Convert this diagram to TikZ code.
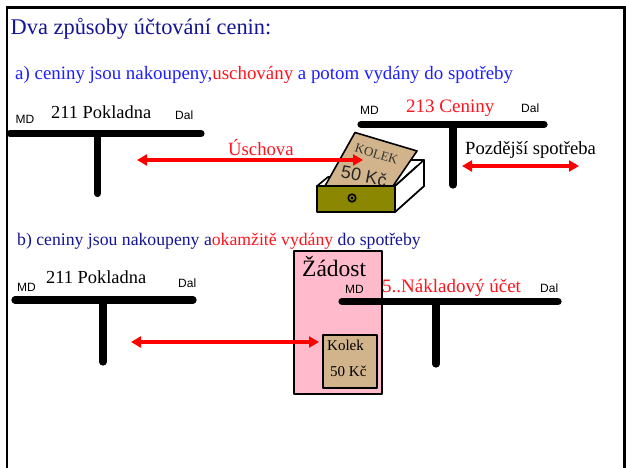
\documentclass[tikz,border=0pt]{standalone}
\usepackage{fontspec}
\setmainfont{Liberation Serif}
\newfontfamily\hv{Liberation Sans}
\usetikzlibrary{arrows.meta}
\definecolor{navy1}{RGB}{20,20,150}
\definecolor{blue1}{RGB}{30,30,255}
\definecolor{red1}{RGB}{255,20,30}
\definecolor{olive1}{RGB}{140,135,0}
\definecolor{tan1}{RGB}{210,180,140}
\definecolor{pink1}{RGB}{255,187,204}
\tikzset{x=1pt,y=-1pt,
 acct/.style={line width=7.2pt,line cap=round},
 redarrow/.style={red,line width=3.8pt,{Triangle[length=10pt,width=11pt]}-{Triangle[length=10pt,width=11pt]}},
 txt/.style={inner sep=0pt,anchor=base west},
 md/.style={txt,font=\hv\fontsize{12}{14}\selectfont},
 boxl/.style={draw=black,line width=1.6pt,line join=round}}
\begin{document}
\begin{tikzpicture}
\useasboundingbox (0,0) rectangle (626,468);
\fill[white] (0,0) rectangle (626,468);
\draw[line width=2.2pt] (6.8,468) -- (6.8,7.5) -- (624.5,7.5) -- (624.5,468);
\node[txt,text=navy1,font=\fontsize{22.4}{26}\selectfont] (title) at (10.5,35) {Dva způsoby účtování cenin:};
\node[txt,text=blue1,font=\fontsize{18.9}{22}\selectfont] (a) at (15,80) {a) ceniny jsou nakoupeny,\textcolor{red1}{uschovány} a potom vydány do spotřeby};
\node[txt,text=navy1,font=\fontsize{17.7}{21}\selectfont] (b) at (17,245) {b) ceniny jsou nakoupeny a\textcolor{red1}{okamžitě vydány} do spotřeby};
% account 1
\draw[acct] (10,133.5) -- (201,133.5);
\draw[acct] (97.5,136) -- (97.5,193.5);
\node[md] (m1) at (15.5,124) {MD};
\node[md] (d1) at (175,120) {Dal};
\node[txt,font=\fontsize{18.4}{21}\selectfont] (t1) at (51,119) {211 Pokladna};
% account 2
\draw[acct] (361,124.5) -- (544,124.5);
\draw[acct] (453,126) -- (453,185);
\node[md] (m2) at (360,115) {MD};
\node[md] (d2) at (521,113) {Dal};
\node[txt,text=red1,font=\fontsize{19}{22}\selectfont] (t2) at (406,113) {213 Ceniny};
\node[txt,font=\fontsize{18.6}{21}\selectfont] (p) at (465,154) {Pozdější spotřeba};
% box back and card
\path[boxl,fill=white] (317,186) -- (328,177) -- (332,177) -- (410,160) -- (424,160) -- (424,186) -- (395,212) -- (395,186) -- cycle;
\path[fill=tan1] (325,186) -- (355,132.5) -- (417,151) -- (393,186) -- cycle;
\draw[boxl] (325,186) -- (355,132.5) -- (417,151) -- (393,186);
\node[rotate=-17,font=\fontsize{13}{15}\selectfont,text=black!80,inner sep=0pt] (k) at (376.5,154) {KOLEK};
\node[rotate=-11,font=\hv\fontsize{18}{20}\selectfont,inner sep=0pt,text=black!85] (c) at (364,176) {50 Kč};
% drawer
\draw[boxl,fill=white] (395,186) -- (424,160) -- (424,186) -- (395,212) -- cycle;
\draw[boxl] (395,186) -- (417,166);
\draw[boxl,fill=olive1] (317,186) rectangle (395,212);
\draw[line width=1.6pt] (352,198) circle (3.8pt);
\fill (352,198) circle (1.7pt);
% arrows
\node[txt,text=red1,font=\fontsize{18.7}{22}\selectfont] (u) at (228,155) {Úschova};
\coordinate (ua) at (137,160);
\coordinate (ub) at (363,160);
\draw[redarrow] (ua) -- (ub);
\coordinate (pa) at (462,166);
\coordinate (pb) at (579,166);
\draw[redarrow] (pa) -- (pb);
% lower
\draw[boxl,fill=pink1] (294,251) rectangle (382,394);
\node[txt,font=\fontsize{23.5}{27}\selectfont] (z) at (302,276) {Žádost};
\draw[acct] (342,301.5) -- (558,301.5);
\draw[acct] (436,304) -- (436,364);
\node[md] (m3) at (345,293) {MD};
\node[md] (d3) at (540,292) {Dal};
\node[txt,text=red1,font=\fontsize{19}{22}\selectfont] (t3) at (382,292) {5..Nákladový účet};
\draw[boxl,fill=tan1] (323,335) rectangle (377,388);
\node[txt,font=\fontsize{15}{17}\selectfont] (ko) at (327,350) {Kolek};
\node[txt,font=\fontsize{15}{17}\selectfont] (kc) at (330,376) {50 Kč};
% account 3
\draw[acct] (15,300) -- (193,300);
\draw[acct] (103,302) -- (103,362);
\node[md] (m4) at (17,291) {MD};
\node[md] (d4) at (178,287) {Dal};
\node[txt,font=\fontsize{18.4}{21}\selectfont] (t4) at (46,283) {211 Pokladna};
\coordinate (va) at (131,342);
\coordinate (vb) at (319,342);
\draw[redarrow] (va) -- (vb);
\end{tikzpicture}
\end{document}
